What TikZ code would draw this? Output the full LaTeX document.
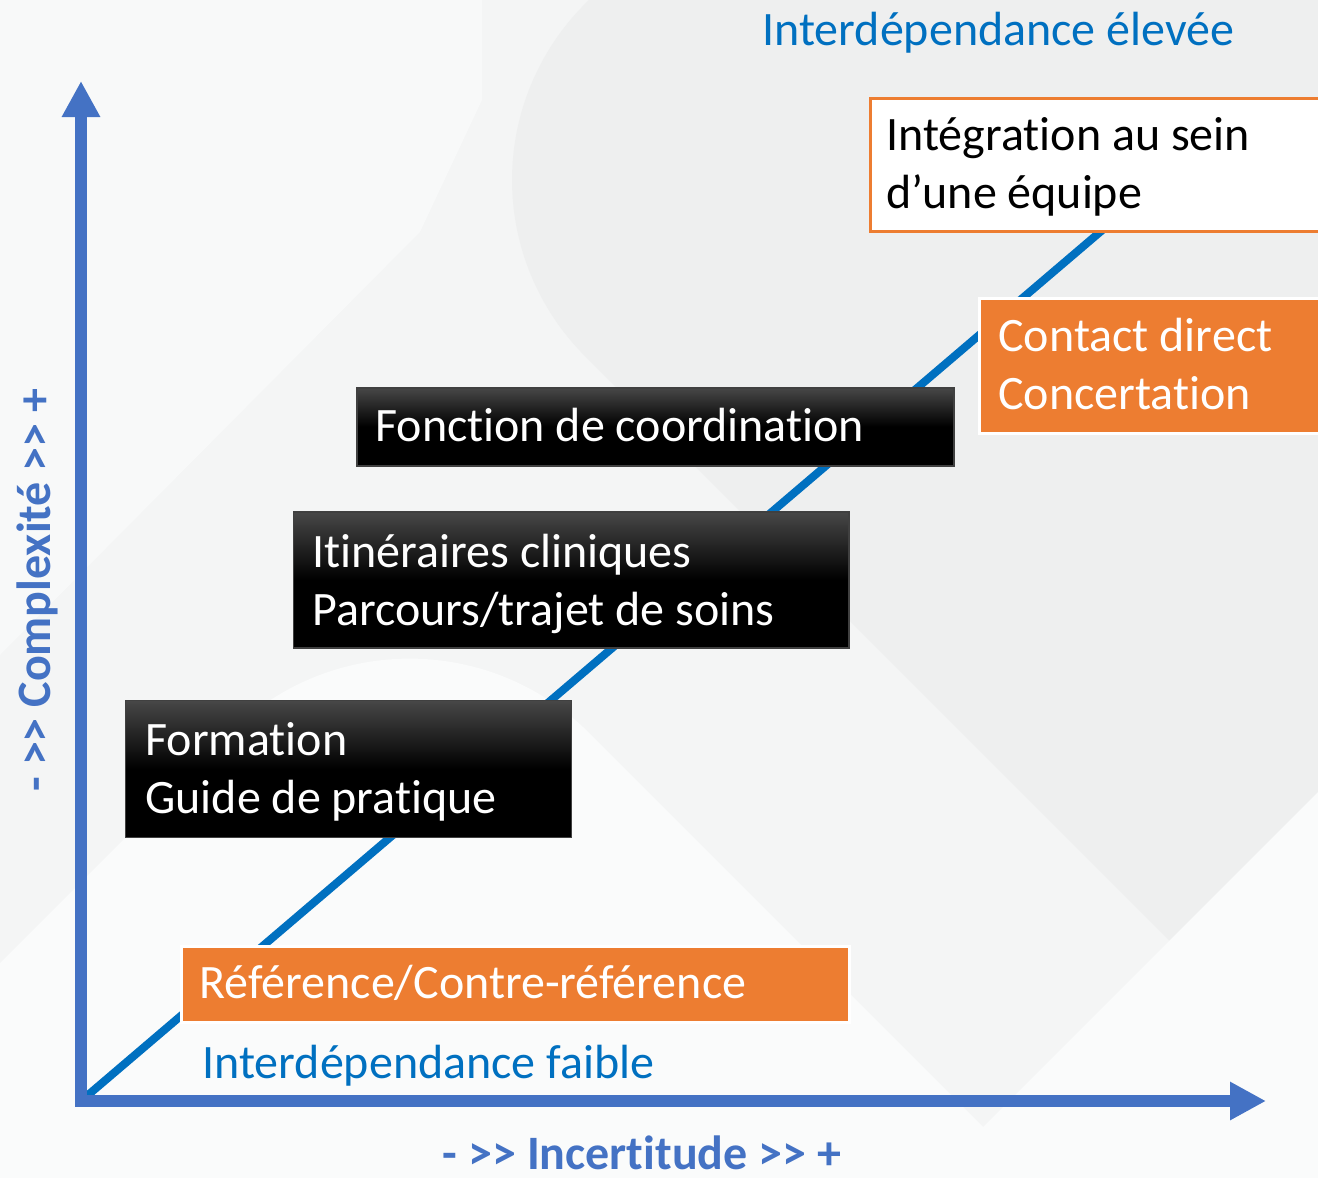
\documentclass[tikz,border=0pt]{standalone}
\usepackage{fontspec}
\setmainfont{Carlito}[Ligatures=CommonOff]
\usetikzlibrary{arrows.meta}
\definecolor{accOrange}{HTML}{ED7D31}
\definecolor{txtBlue}{HTML}{0070C0}
\definecolor{axBlue}{HTML}{4472C4}
\definecolor{bgBase}{HTML}{F4F5F5}
\definecolor{bgLight}{HTML}{F8F9F9}
\definecolor{bgLighter}{HTML}{FAFBFB}
\definecolor{bgDark}{HTML}{EEEFEF}
\newcommand{\gtgt}{>\kern0pt>}
\tikzset{
  lbl/.style={inner sep=0pt, anchor=base west, font=\fontsize{24}{28.5}\selectfont},
  boxtxt/.style={lbl, text=white},
  blacktxt/.style={lbl, text=black},
  bluetxt/.style={lbl, text=txtBlue},
  blackbox/.style={rectangle, anchor=north west, inner sep=0pt, draw=black!75, line width=0.75pt, top color=black!72, bottom color=black, middle color=black},
  orangebox/.style={rectangle, anchor=north west, inner sep=0pt, fill=accOrange, draw=white, line width=1.5pt},
  whitebox/.style={rectangle, anchor=north west, inner sep=0pt, fill=white, draw=accOrange, line width=1.5pt},
  axisline/.style={draw=axBlue, line width=6pt, line join=miter, arrows={Triangle[length=18pt,width=18pt]-Triangle[length=18pt,width=18pt]}},
  diagline/.style={draw=txtBlue, line width=4pt},
  axlbl/.style={inner sep=0pt, anchor=base, text=axBlue, font=\fontsize{24}{28.5}\selectfont\bfseries},
}
\begin{document}
\begin{tikzpicture}[x=0.5pt,y=-0.5pt]
\useasboundingbox (0,0) rectangle (1318,1178);
\clip (0,0) rectangle (1318,1178);
% background
\fill[bgBase] (0,0) rectangle (1318,1178);
\fill[bgLight] (0,0) -- (482,0) -- (482,100) -- (420,232) -- (0,655) -- cycle;
\fill[bgDark] (589,0) arc[start angle=226.3, end angle=135, radius=249] -- (1318,1089) -- (1318,0) -- cycle;
\fill[bgLighter] (0,963) -- (230,733) arc[start angle=225, end angle=315, radius=254] -- (1034,1178) -- (0,1178) -- cycle;
\fill[bgLighter] (932,1178) -- (1318,792) -- (1318,1178) -- cycle;

% coordinates
\coordinate (O) at (81,1101);
\coordinate (yTip) at (81,81);
\coordinate (xTip) at (1266,1101);
\coordinate (diagTop) at (1120,215);

% diagonal
\draw[diagline] (O) -- (diagTop);

% boxes
\node[whitebox, minimum width=235.75pt, minimum height=66.75pt] (integ) at (868.5,96.5) {};
\node[orangebox, minimum width=180pt, minimum height=67.5pt] (contact) at (977.5,297) {};
\node[blackbox, minimum width=298.5pt, minimum height=39pt] (coord) at (356,387) {};
\node[blackbox, minimum width=277.75pt, minimum height=68pt] (itin) at (292.5,511) {};
\node[blackbox, minimum width=223pt, minimum height=68.5pt] (form) at (124.5,699.5) {};
\node[orangebox, minimum width=334pt, minimum height=38pt] (ref) at (179.5,944.5) {};

% box texts
\node[blacktxt] (integA) at (886,150) {Intégration au sein};
\node[blacktxt] (integB) at (886,208) {d’une équipe};
\node[boxtxt] (contactA) at (998,351) {Contact direct};
\node[boxtxt] (contactB) at (998,409) {Concertation};
\node[boxtxt] (coordA) at (375,441) {Fonction de coordination};
\node[boxtxt] (itinA) at (312,567) {Itinéraires cliniques};
\node[boxtxt] (itinB) at (312,625) {Parcours/trajet de soins};
\node[boxtxt] (formA) at (145,755) {Formation};
\node[boxtxt] (formB) at (145,813) {Guide de pratique};
\node[boxtxt] (refA) at (199,998) {Référence/Contre-référence};

% blue labels
\node[bluetxt] (high) at (762,46) {Interdépendance élevée};
\node[bluetxt] (low) at (202,1078) {Interdépendance faible};

% axes
\draw[axisline] (yTip) -- (O) -- (xTip);
\node[axlbl, rotate=90] (ylab) at (50,590) {- \gtgt{} Complexité \gtgt{} +};
\node[axlbl] (xlab) at (642,1169) {- \gtgt{} Incertitude \gtgt{} +};
\end{tikzpicture}
\end{document}
